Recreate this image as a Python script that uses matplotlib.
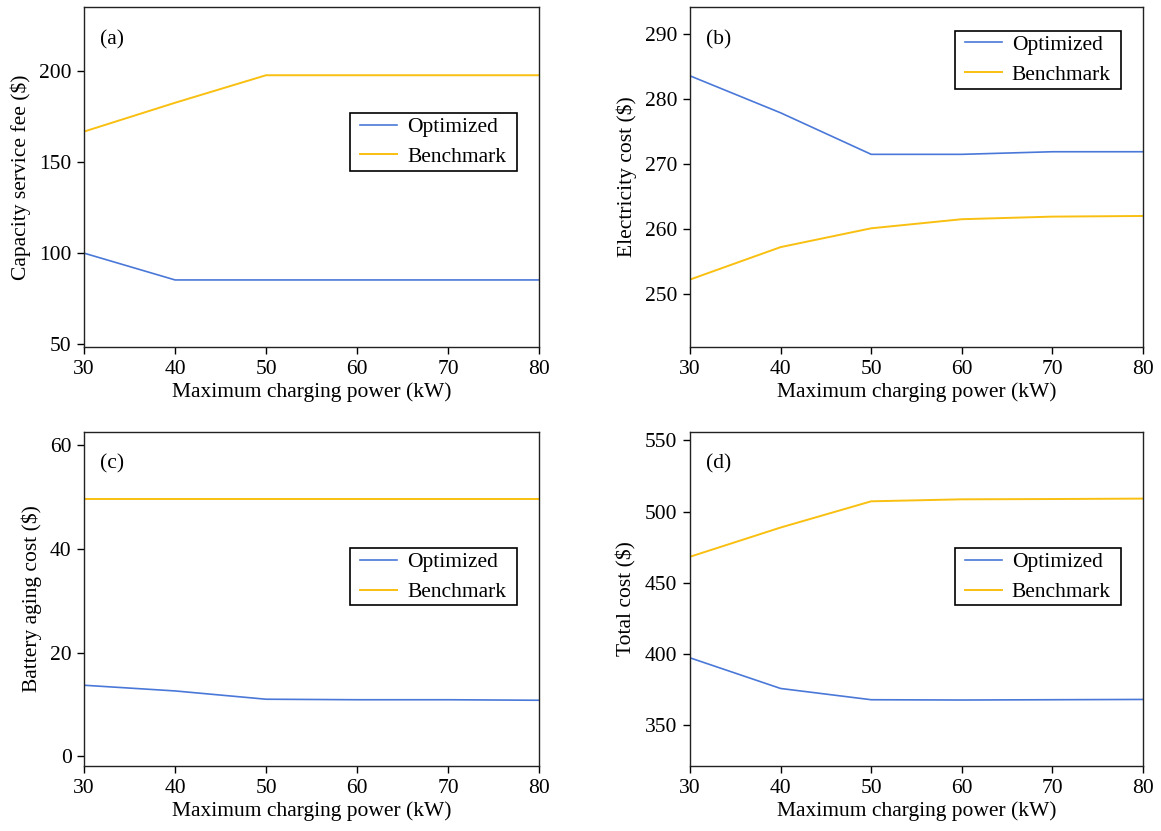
import matplotlib
matplotlib.use("Agg")
import matplotlib.pyplot as plt
from matplotlib.patches import Rectangle

# Cost components versus maximum charging power
power_kw = [30, 40, 50, 60, 70, 80]

capacity_optimized = [100.0, 85.3, 85.3, 85.3, 85.3, 85.3]
capacity_benchmark = [166.7, 182.5, 197.6, 197.6, 197.6, 197.6]

electricity_optimized = [283.6, 277.9, 271.5, 271.5, 271.9, 271.9]
electricity_benchmark = [252.2, 257.2, 260.1, 261.5, 261.9, 262.0]

aging_optimized = [13.7, 12.6, 11.0, 10.9, 10.9, 10.8]
aging_benchmark = [49.7, 49.7, 49.7, 49.7, 49.7, 49.7]

total_optimized = [397.4, 375.9, 368.0, 367.8, 368.0, 368.2]
total_benchmark = [468.3, 488.8, 507.2, 508.6, 508.8, 509.1]

BLUE = "#4a78d8"
YELLOW = "#f9c011"
FONT_SIZE = 15.5
DPI = 100

plt.rcParams["font.family"] = ["Liberation Serif", "DejaVu Serif"]
plt.rcParams["font.size"] = FONT_SIZE

fig = plt.figure(figsize=(11.61, 8.31), dpi=DPI)

panels = [
    # tag, position, optimized, benchmark, ylabel, ylim, yticks, legend box (x0, y0, x1, y1)
    ("(a)", [0.0724, 0.5824, 0.3919, 0.4091], capacity_optimized, capacity_benchmark,
     "Capacity service fee ($)", (48.5, 235.0), [50, 100, 150, 200],
     (0.584, 0.518, 0.951, 0.688)),
    ("(b)", [0.5943, 0.5824, 0.3902, 0.4091], electricity_optimized, electricity_benchmark,
     "Electricity cost ($)", (241.8, 294.2), [250, 260, 270, 280, 290],
     (0.584, 0.760, 0.951, 0.930)),
    ("(c)", [0.0724, 0.0782, 0.3919, 0.4019], aging_optimized, aging_benchmark,
     "Battery aging cost ($)", (-1.9, 62.6), [0, 20, 40, 60],
     (0.584, 0.482, 0.951, 0.652)),
    ("(d)", [0.5943, 0.0782, 0.3902, 0.4019], total_optimized, total_benchmark,
     "Total cost ($)", (321.5, 555.8), [350, 400, 450, 500, 550],
     (0.584, 0.482, 0.951, 0.652)),
]

for tag, rect, optimized, benchmark, ylabel, ylim, yticks, box in panels:
    ax = fig.add_axes(rect)
    ax.plot(power_kw, optimized, color=BLUE, linewidth=1.2, label="Optimized")
    ax.plot(power_kw, benchmark, color=YELLOW, linewidth=1.4, label="Benchmark")

    ax.set_xlim(30, 80)
    ax.set_ylim(*ylim)
    ax.set_xticks(power_kw)
    ax.set_yticks(yticks)
    ax.set_xlabel("Maximum charging power (kW)", labelpad=3)
    ax.set_ylabel(ylabel.replace("$", r"\$"), labelpad=6)
    ax.tick_params(direction="out", length=5, width=1.0, labelsize=FONT_SIZE, pad=4)
    for spine in ax.spines.values():
        spine.set_linewidth(1.0)
        spine.set_color("#222222")

    ax.text(0.035, 0.905, tag, transform=ax.transAxes, ha="left", va="center",
            fontsize=FONT_SIZE)

    # legend frame drawn separately so the side padding can be wider than the top/bottom
    x0, y0, x1, y1 = box
    ax.add_patch(Rectangle((x0, y0), x1 - x0, y1 - y0, transform=ax.transAxes,
                           facecolor="white", edgecolor="black", linewidth=1.2,
                           zorder=4, clip_on=False))
    w_px = rect[2] * fig.get_figwidth() * DPI
    h_px = rect[3] * fig.get_figheight() * DPI
    ax.legend(loc="upper left", bbox_to_anchor=(x0 + 10 / w_px, y1 - 4 / h_px),
              borderaxespad=0, borderpad=0, frameon=False,
              handlelength=1.75, handletextpad=0.45, labelspacing=0.45,
              fontsize=FONT_SIZE)

fig.savefig("out.png", dpi=DPI)
